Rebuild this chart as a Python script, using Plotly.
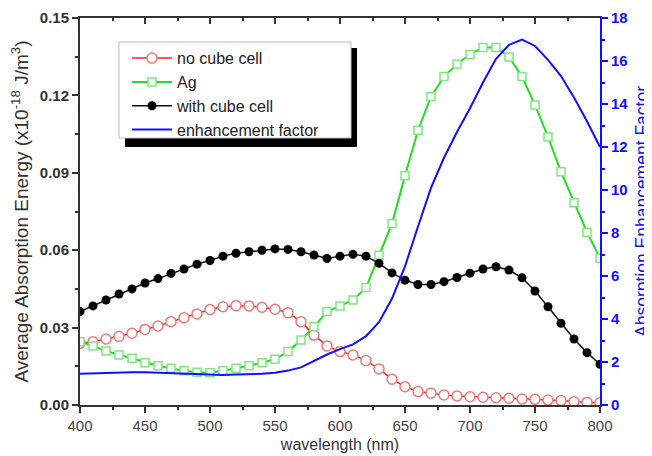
import plotly.graph_objects as go

wavelength = [400, 410, 420, 430, 440, 450, 460, 470, 480, 490, 500, 510, 520, 530, 540,
              550, 560, 570, 580, 590, 600, 610, 620, 630, 640, 650, 660, 670, 680, 690,
              700, 710, 720, 730, 740, 750, 760, 770, 780, 790, 800]

no_cube = [0.0239, 0.0245, 0.0256, 0.0266, 0.0278, 0.0293, 0.0306, 0.0323, 0.0338, 0.0353,
           0.0370, 0.0381, 0.0385, 0.0384, 0.0379, 0.0371, 0.0358, 0.0323, 0.0271, 0.0229,
           0.0207, 0.0194, 0.0172, 0.0140, 0.0100, 0.0071, 0.0052, 0.0046, 0.0039, 0.0035,
           0.0032, 0.0030, 0.0028, 0.0026, 0.0023, 0.0022, 0.0019, 0.0017, 0.0013, 0.0010,
           0.0009]

ag = [0.0245, 0.0229, 0.0209, 0.0194, 0.0181, 0.0164, 0.0152, 0.0142, 0.0133, 0.0127,
      0.0125, 0.0133, 0.0142, 0.0152, 0.0164, 0.0177, 0.0207, 0.0252, 0.0303, 0.0362,
      0.0384, 0.0407, 0.0455, 0.0580, 0.0703, 0.0889, 0.1065, 0.1195, 0.1273, 0.1322,
      0.1359, 0.1386, 0.1386, 0.1349, 0.1273, 0.1163, 0.1039, 0.0904, 0.0784, 0.0670,
      0.0569]

with_cube = [0.0362, 0.0384, 0.0407, 0.0430, 0.0450, 0.0473, 0.0490, 0.0510, 0.0527, 0.0546,
             0.0560, 0.0577, 0.0588, 0.0594, 0.0600, 0.0605, 0.0603, 0.0594, 0.0581, 0.0568,
             0.0577, 0.0584, 0.0577, 0.0549, 0.0512, 0.0484, 0.0467, 0.0467, 0.0478, 0.0494,
             0.0511, 0.0527, 0.0536, 0.0523, 0.0493, 0.0442, 0.0381, 0.0317, 0.0256, 0.0203,
             0.0158]

enhancement = [1.45, 1.47, 1.50, 1.52, 1.52, 1.52, 1.50, 1.48, 1.45, 1.42,
               1.40, 1.40, 1.42, 1.43, 1.45, 1.50, 1.60, 1.75, 2.05, 2.35,
               2.60, 2.82, 3.20, 3.85, 4.95, 6.45, 8.30, 10.10, 11.50, 12.70,
               13.80, 15.00, 16.10, 16.75, 17.00, 16.70, 16.05, 15.30, 14.30, 13.20,
               12.00]

left_ticks = [0.00, 0.03, 0.06, 0.09, 0.12, 0.15]
right_ticks = [0, 2, 4, 6, 8, 10, 12, 14, 16, 18]
x_ticks = [400, 450, 500, 550, 600, 650, 700, 750, 800]

FONT = "Arial, Liberation Sans, sans-serif"

fig = go.Figure()

fig.add_trace(go.Scatter(
    x=wavelength, y=no_cube, name="no cube cell", mode="lines+markers",
    line=dict(color="#ff2020", width=1.5),
    marker=dict(symbol="circle", size=10, color="white",
                line=dict(color="#f07878", width=1.5)),
))
fig.add_trace(go.Scatter(
    x=wavelength, y=ag, name="Ag", mode="lines+markers",
    line=dict(color="#22dd22", width=2),
    marker=dict(symbol="square", size=8, color="white",
                line=dict(color="#80e880", width=1.5)),
))
fig.add_trace(go.Scatter(
    x=wavelength, y=with_cube, name="with cube cell", mode="lines+markers",
    line=dict(color="#111111", width=1.5),
    marker=dict(symbol="circle", size=9, color="#000000"),
))
fig.add_trace(go.Scatter(
    x=wavelength, y=enhancement, name="enhancement factor", mode="lines",
    line=dict(color="#1010ff", width=2), yaxis="y2",
))
# invisible helper trace so the top mirrored axis is drawn
fig.add_trace(go.Scatter(
    x=wavelength, y=enhancement, xaxis="x2", yaxis="y2", mode="lines",
    line=dict(width=0), opacity=0, showlegend=False, hoverinfo="skip",
))

axis_color = "#333333"

# page body has an 8px margin, so the figure is sized/margined to compensate
fig.update_layout(
    width=644, height=448,
    margin=dict(l=72, r=52, t=10, b=51),
    paper_bgcolor="white", plot_bgcolor="white",
    font=dict(family=FONT, color=axis_color),
    showlegend=True,
    legend=dict(
        x=0.0904, y=0.94, xanchor="left", yanchor="top",
        bgcolor="rgba(0,0,0,0)", borderwidth=0,
        font=dict(family=FONT, size=16, color="#222222"),
        itemwidth=40, tracegroupgap=0,
    ),
    xaxis=dict(
        automargin=False,
        range=[400, 800], tickvals=x_ticks, ticks="outside", ticklen=6, tickwidth=1.5,
        tickcolor=axis_color, showline=True, linecolor=axis_color, linewidth=2,
        showgrid=False, zeroline=False,
        tickfont=dict(size=15, color="#444444"),
        minor=dict(dtick=25, ticks="outside", ticklen=3, tickcolor=axis_color),
        title=dict(text="wavelength (nm)", font=dict(size=16, color="#333333"), standoff=6),
    ),
    xaxis2=dict(
        automargin=False,
        range=[400, 800], overlaying="x", side="top", anchor="y",
        tickvals=x_ticks, ticks="inside", ticklen=6, tickwidth=1.5, tickcolor=axis_color,
        showticklabels=False, showline=True, linecolor=axis_color, linewidth=2,
        showgrid=False, zeroline=False,
        minor=dict(dtick=25, ticks="inside", ticklen=3, tickcolor=axis_color),
    ),
    yaxis=dict(
        automargin=False,
        range=[0, 0.15], tickvals=left_ticks, tickformat=".2f", ticks="outside",
        ticklen=6, tickwidth=1.5, tickcolor=axis_color,
        showline=True, linecolor=axis_color, linewidth=2, showgrid=False, zeroline=False,
        tickfont=dict(size=15, color="#333333", weight="bold"),
        minor=dict(dtick=0.015, ticks="outside", ticklen=3, tickcolor=axis_color),
        title=dict(text="Average Absorption Energy (x10<sup>-18</sup> J/m<sup>3</sup>)",
                   font=dict(size=19, color="#333333"), standoff=6),
    ),
    yaxis2=dict(
        automargin=False,
        range=[0, 18], tickvals=right_ticks, overlaying="y", side="right", anchor="x",
        ticks="outside", ticklen=6, tickwidth=1.5, tickcolor="#1010ff",
        showline=True, linecolor="#1010ff", linewidth=2, showgrid=False, zeroline=False,
        tickfont=dict(size=15, color="#1010ff", weight="bold"),
        minor=dict(dtick=1, ticks="outside", ticklen=3, tickcolor="#1010ff"),
        title=dict(text="Absorption Enhancement Factor",
                   font=dict(size=17.5, color="#1010ff"), standoff=8),
    ),
    shapes=[
        dict(type="rect", xref="paper", yref="paper", layer="below",
             x0=0.0865, x1=0.5327, y0=0.6667, y1=0.9225,
             fillcolor="black", line=dict(width=0)),
        dict(type="rect", xref="paper", yref="paper", layer="below",
             x0=0.075, x1=0.5212, y0=0.6899, y1=0.938,
             fillcolor="white", line=dict(color="#bbbbbb", width=1)),
    ],
)

fig.write_html("out.html")
